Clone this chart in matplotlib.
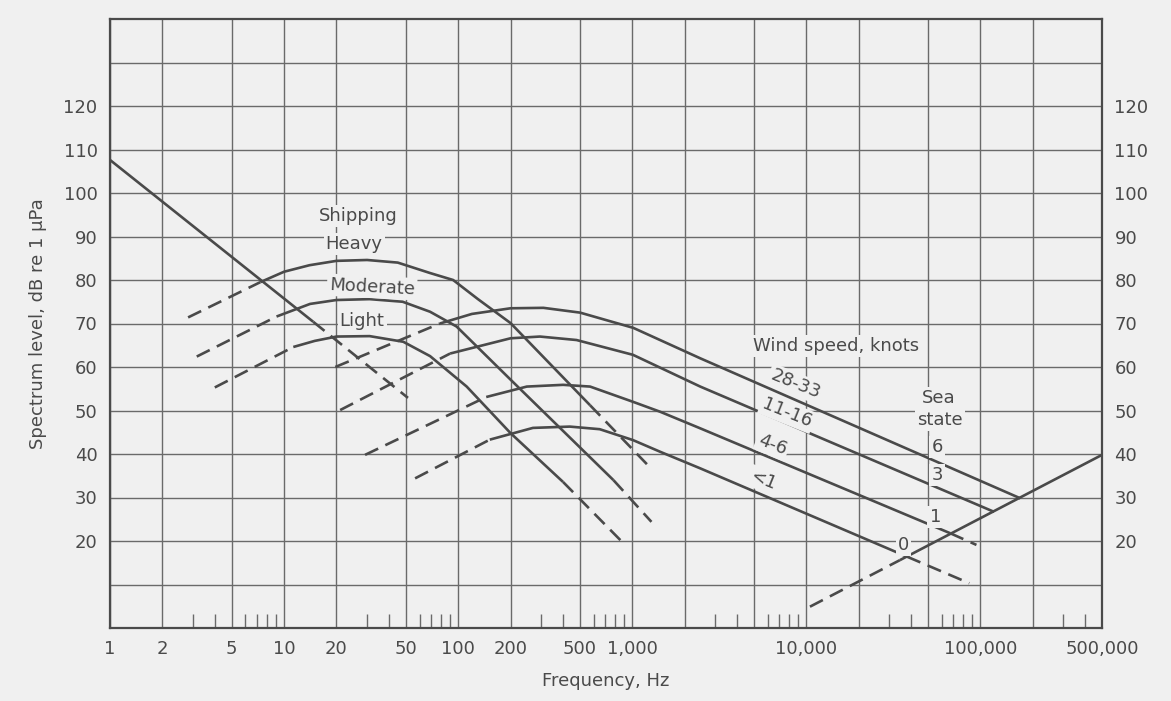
"""
Ambient noise spectrum levels (Wenz-type curves)
"""
import matplotlib
matplotlib.use('Agg')
import matplotlib.pyplot as plt

plt.rcParams['font.family'] = ['DejaVu Sans']

INK = '#4a4a4a'
GRID = '#6a6a6a'
PAPER = '#f0f0f0'

# ---- readings (frequency in Hz, level in dB re 1 uPa) ----
# turbulence
turb_f = [1, 14.7]
turb_db = [107.6, 70.4]
turb_tail_f = [14.7, 51.5]
turb_tail_db = [70.4, 52.9]

# shipping: heavy / moderate / light
heavy_rise_f = [2.81, 7.3]
heavy_rise_db = [71.4, 79.5]
heavy_f = [7.3, 10, 14, 20, 30, 45, 69, 93.6, 130, 200, 573]
heavy_db = [79.5, 81.9, 83.4, 84.4, 84.6, 84.0, 81.6, 80.0, 75.6, 70.1, 51.2]
heavy_tail_f = [573, 1260]
heavy_tail_db = [51.2, 37.0]

moderate_rise_f = [3.15, 9.05]
moderate_rise_db = [62.4, 71.6]
moderate_f = [9.05, 14.1, 20, 31, 48, 69, 98, 200, 780]
moderate_db = [71.6, 74.5, 75.4, 75.6, 75.0, 72.7, 69.3, 57.1, 34.0]
moderate_tail_f = [780, 1290]
moderate_tail_db = [34.0, 24.4]

light_rise_f = [4.0, 11.3]
light_rise_db = [55.3, 64.6]
light_f = [11.3, 15, 20, 31, 48.4, 69, 112, 200, 400]
light_db = [64.6, 66.0, 67.0, 67.1, 65.8, 62.5, 55.5, 44.8, 33.6]
light_tail_f = [400, 890]
light_tail_db = [33.6, 19.5]

# wind speed curves
w28_rise_f = [19.7, 78.6]
w28_rise_db = [60.0, 70.0]
w28_f = [78.6, 120, 200, 309, 502, 1014, 2460, 170000]
w28_db = [70.0, 72.2, 73.5, 73.6, 72.5, 69.0, 62.0, 29.8]

w11_rise_f = [21.0, 90]
w11_rise_db = [50.1, 63.1]
w11_f = [90, 200, 295, 479, 1010, 2460, 120000]
w11_db = [63.1, 66.6, 67.0, 66.2, 62.8, 55.5, 26.7]

w4_rise_f = [29.2, 145]
w4_rise_db = [39.8, 53.1]
w4_f = [145, 248, 401, 573, 1010, 1450, 2460, 67000]
w4_db = [53.1, 55.5, 55.9, 55.5, 52.0, 49.7, 45.9, 21.8]
w4_tail_f = [67000, 95000]
w4_tail_db = [21.8, 19.1]

w1_rise_f = [56.6, 152]
w1_rise_db = [34.4, 43.3]
w1_f = [152, 269, 438, 651, 1010, 1450, 2460, 37900]
w1_db = [43.3, 46.0, 46.3, 45.7, 43.2, 40.5, 36.7, 16.4]
w1_tail_f = [37900, 86400]
w1_tail_db = [16.4, 10.3]

# thermal noise
thermal_rise_f = [10500, 34500]
thermal_rise_db = [4.9, 15.6]
thermal_f = [34500, 500000]
thermal_db = [15.6, 39.8]

# ---- axis ----
x_ticks = [1, 2, 5, 10, 20, 50, 100, 200, 500, 1000, 10000, 100000, 500000]
x_labels = ['1', '2', '5', '10', '20', '50', '100', '200', '500', '1,000',
            '10,000', '100,000', '500,000']
y_ticks = [20, 30, 40, 50, 60, 70, 80, 90, 100, 110, 120]
v_grid = [m * 10 ** k for k in range(6) for m in (1, 2, 5)]
h_grid = list(range(10, 140, 10))
minor_ticks = [m * 10 ** k for k in range(5) for m in (3, 4, 6, 7, 8, 9)] + [3e5, 4e5]

solid_curves = [(turb_f, turb_db), (heavy_f, heavy_db), (moderate_f, moderate_db),
                (light_f, light_db), (w28_f, w28_db), (w11_f, w11_db),
                (w4_f, w4_db), (w1_f, w1_db), (thermal_f, thermal_db)]
dashed_curves = [(turb_tail_f, turb_tail_db),
                 (heavy_rise_f, heavy_rise_db), (heavy_tail_f, heavy_tail_db),
                 (moderate_rise_f, moderate_rise_db), (moderate_tail_f, moderate_tail_db),
                 (light_rise_f, light_rise_db), (light_tail_f, light_tail_db),
                 (w28_rise_f, w28_rise_db), (w11_rise_f, w11_rise_db),
                 (w4_rise_f, w4_rise_db), (w4_tail_f, w4_tail_db),
                 (w1_rise_f, w1_rise_db), (w1_tail_f, w1_tail_db),
                 (thermal_rise_f, thermal_rise_db)]

fig = plt.figure(figsize=(11.71, 7.01), dpi=100, facecolor=PAPER)
ax = fig.add_axes([110 / 1171, 1 - 628 / 701, 992 / 1171, 609 / 701])
ax.set_facecolor(PAPER)
ax.set_xscale('log')
ax.set_xlim(1, 500000)
ax.set_ylim(0, 140)

for xv in v_grid:
    ax.axvline(xv, color=GRID, lw=1.0, zorder=1)
for yv in h_grid:
    ax.axhline(yv, color=GRID, lw=1.0, zorder=1)

for f, db in solid_curves:
    ax.plot(f, db, color=INK, lw=1.9, solid_capstyle='butt', zorder=3)
for f, db in dashed_curves:
    ax.plot(f, db, color=INK, lw=1.9, dashes=(5.5, 3), dash_capstyle='butt', zorder=3)

ax.set_xticks(x_ticks)
ax.set_xticklabels(x_labels)
ax.set_xticks(minor_ticks, minor=True)
ax.set_xticklabels([], minor=True)
ax.tick_params(axis='x', which='major', length=0, pad=9, labelsize=13, labelcolor=INK)
ax.tick_params(axis='x', which='minor', direction='in', length=10, width=1.0,
               color=GRID, top=False)
ax.set_yticks(y_ticks)
ax.tick_params(axis='y', which='both', length=0, left=False, right=False,
               labelleft=True, labelright=True, pad=9, labelsize=13, labelcolor=INK)

for s in ax.spines.values():
    s.set_color(INK)
    s.set_linewidth(1.6)

ax.set_xlabel('Frequency, Hz', fontsize=13, color=INK, labelpad=10)
ax.set_ylabel('Spectrum level, dB re 1 μPa', fontsize=13, color=INK, labelpad=12)

box = dict(facecolor=PAPER, edgecolor='none', pad=1.5)
labels = [
    ('Shipping', 26.6, 94.7, 0),
    ('Heavy', 25.3, 88.3, 0),
    ('Moderate', 32.0, 78.4, -3),
    ('Light', 28.1, 70.6, 0),
    ('Wind speed, knots', 14900, 64.8, 0),
    ('28-33', 8650, 56.1, -22),
    ('11-16', 7780, 49.4, -22),
    ('4-6', 6380, 42.1, -22),
    ('<1', 5660, 34.0, -22),
    ('Sea', 57400, 52.9, 0),
    ('state', 58900, 47.8, 0),
    ('6', 56600, 41.6, 0),
    ('3', 56600, 35.2, 0),
    ('1', 55100, 25.5, 0),
    ('0', 36100, 19.1, 0),
]
for txt, fx, fy, rot in labels:
    ax.text(fx, fy, txt, fontsize=13, color=INK, ha='center', va='center',
            rotation=rot, bbox=box, zorder=4)

fig.savefig('out.png', dpi=100, facecolor=PAPER)
